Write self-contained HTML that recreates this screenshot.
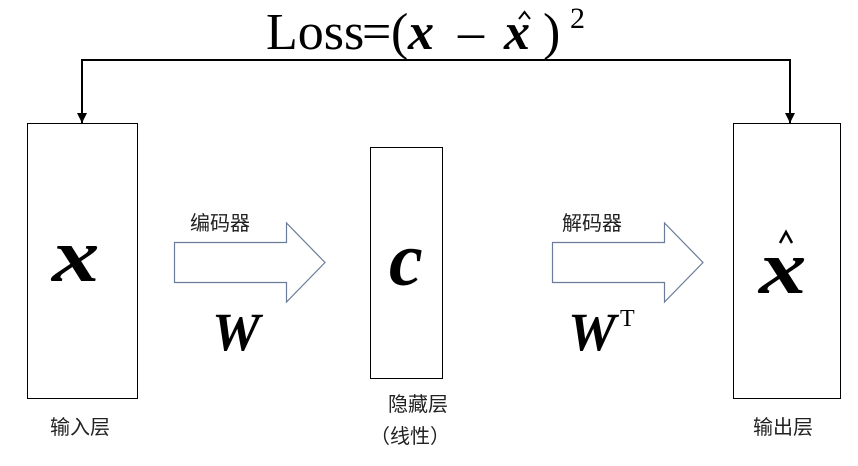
<!DOCTYPE html>
<html><head><meta charset="utf-8"><style>
body{margin:0;width:858px;height:466px;background:#fff;overflow:hidden;position:relative;font-family:"Liberation Serif","Noto Serif CJK SC",serif}
.t{position:absolute;white-space:nowrap;line-height:1}
.cj{font-family:"Liberation Sans","Noto Sans CJK SC",sans-serif;font-size:20px;color:#222}
.m{font-weight:bold;font-style:italic}
.L{font-size:52px}
</style></head><body>
<svg width="858" height="466" style="position:absolute;left:0;top:0">
<polyline points="82,123 82,60 790,60 790,123" fill="none" stroke="#000" stroke-width="2"/>
<path d="M77,113 L87,113 L82,123z M785,113 L795,113 L790,123z" fill="#000"/>
<rect x="27.5" y="123.5" width="110" height="275" fill="none" stroke="#000" stroke-width="1"/>
<rect x="370.5" y="147.5" width="72" height="231" fill="none" stroke="#000" stroke-width="1"/>
<rect x="733.5" y="123.5" width="107" height="275" fill="none" stroke="#000" stroke-width="1"/>
<path d="M174.5,242.5 H286.5 V223 L325,262.5 L286.5,302 V282.5 H174.5z" fill="none" stroke="#6a7c99" stroke-width="1.2"/>
<path d="M552.5,242.5 H664.5 V223 L703,262.5 L664.5,302 V282.5 H552.5z" fill="none" stroke="#6a7c99" stroke-width="1.2"/>
<polyline points="519,19 524.5,12 530,19" fill="none" stroke="#000" stroke-width="2"/>
<polyline points="780,243 786,232 792,243" fill="none" stroke="#000" stroke-width="2.5"/>
</svg>
<div class="t L" style="left:266px;top:7px">Loss</div>
<div class="t L" style="left:362px;top:7px">=</div>
<div class="t L" style="left:391px;top:7px">(</div>
<div class="t L m" style="left:408px;top:7px">x</div>
<div class="t L" style="left:458px;top:7px">–</div>
<div class="t L m" style="left:504px;top:7px">x</div>
<div class="t L" style="left:543px;top:7px">)</div>
<div class="t" style="left:570px;top:4px;font-size:30px">2</div>
<div class="t cj" style="left:190px;top:214px">编码器</div>
<div class="t cj" style="left:562px;top:214px">解码器</div>
<div class="t m" style="left:52px;top:218px;font-size:76px;transform:scaleX(1.25);transform-origin:0 0">x</div>
<div class="t m" style="left:389px;top:222px;font-size:76px">c</div>
<div class="t m" style="left:759px;top:230px;font-size:76px;transform:scaleX(1.25);transform-origin:0 0">x</div>
<div class="t m" style="left:212px;top:305px;font-size:54px">W</div>
<div class="t m" style="left:568px;top:305px;font-size:54px">W</div>
<div class="t" style="left:620px;top:307px;font-size:24px">T</div>
<div class="t cj" style="left:50px;top:418px">输入层</div>
<div class="t cj" style="left:388px;top:395px">隐藏层</div>
<div class="t cj" style="left:370px;top:427px">（线性）</div>
<div class="t cj" style="left:753px;top:418px">输出层</div>
</body></html>
